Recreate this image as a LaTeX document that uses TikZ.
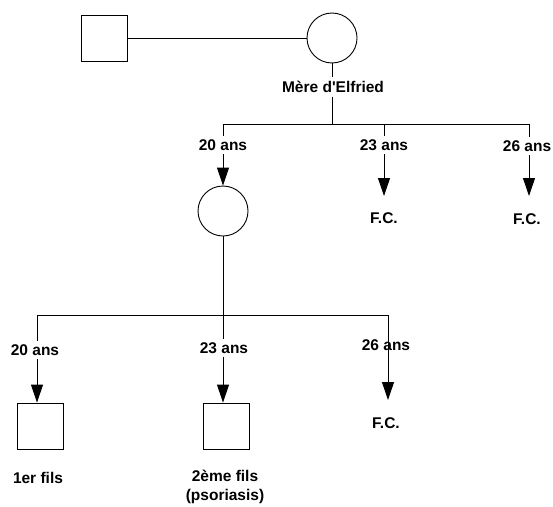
\documentclass[tikz,border=0pt]{standalone}
\usepackage{fontspec}
\setmainfont{Liberation Sans}
\usetikzlibrary{arrows.meta,positioning}

\begin{document}
\begin{tikzpicture}[
    x=1pt, y=-1pt,
    line width=0.9pt,
    male/.style={draw, rectangle, minimum size=46pt, inner sep=0pt},
    female/.style={draw, circle, minimum size=50pt, inner sep=0pt},
    txt/.style={font=\bfseries\fontsize{15.5}{19}\selectfont, inner xsep=2pt, inner ysep=3.5pt},
    age/.style={txt, fill=white},
    arrow/.style={-{Triangle[length=18pt, width=12pt]}}
]
\useasboundingbox (0,0) rectangle (553,506);

% Parents
\node[male] (pere) at (104,38) {};
\node[female] (mere) at (332,38) {};
\draw (pere) -- (mere);
\node[txt] (nom) at (333,87) {Mère d\textquotesingle Elfried};
\draw (mere) -- (mere |- nom.north);

% First generation
\coordinate (j1) at (332,124);
\coordinate (b1) at (223,124);
\coordinate (b2) at (384,124);
\coordinate (b3) at (529,124);
\coordinate (e2) at (384,196);
\coordinate (e3) at (529,196);
\node[female] (fille) at (223,211) {};
\draw (j1 |- nom.south) -- (j1);
\draw (b1) -- (b3);
\draw[arrow] (b1) -- (fille);
\draw[arrow] (b2) -- (e2);
\draw[arrow] (b3) -- (e3);
\node[age] (a1) at (223,145) {20 ans};
\node[age] (a2) at (384,145) {23 ans};
\node[age] (a3) at (527,146) {26 ans};
\node[txt] (fc1) at (384,218) {F.C.};
\node[txt] (fc2) at (527,219) {F.C.};

% Second generation
\node[male] (fils1) at (40,426) {};
\node[male] (fils2) at (226,426) {};
\coordinate (b4) at (37,315);
\coordinate (b6) at (388,315);
\coordinate (e6) at (388,400);
\draw (b4) -- (b6);
\draw[arrow] (b4) -- (fils1.north -| b4);
\draw[arrow] (fille) -- (fils2.north -| fille);
\draw[arrow] (b6) -- (e6);
\node[age] (a4) at (35,350) {20 ans};
\node[age] (a5) at (224,348) {23 ans};
\node[txt] (a6) at (386,345) {26 ans};
\node[txt] (fc3) at (386,423) {F.C.};
\node[txt] (n1) at (38,478) {1er fils};
\node[txt, align=center] (n2) at (225,487) {2ème fils\\(psoriasis)};

\end{tikzpicture}
\end{document}
